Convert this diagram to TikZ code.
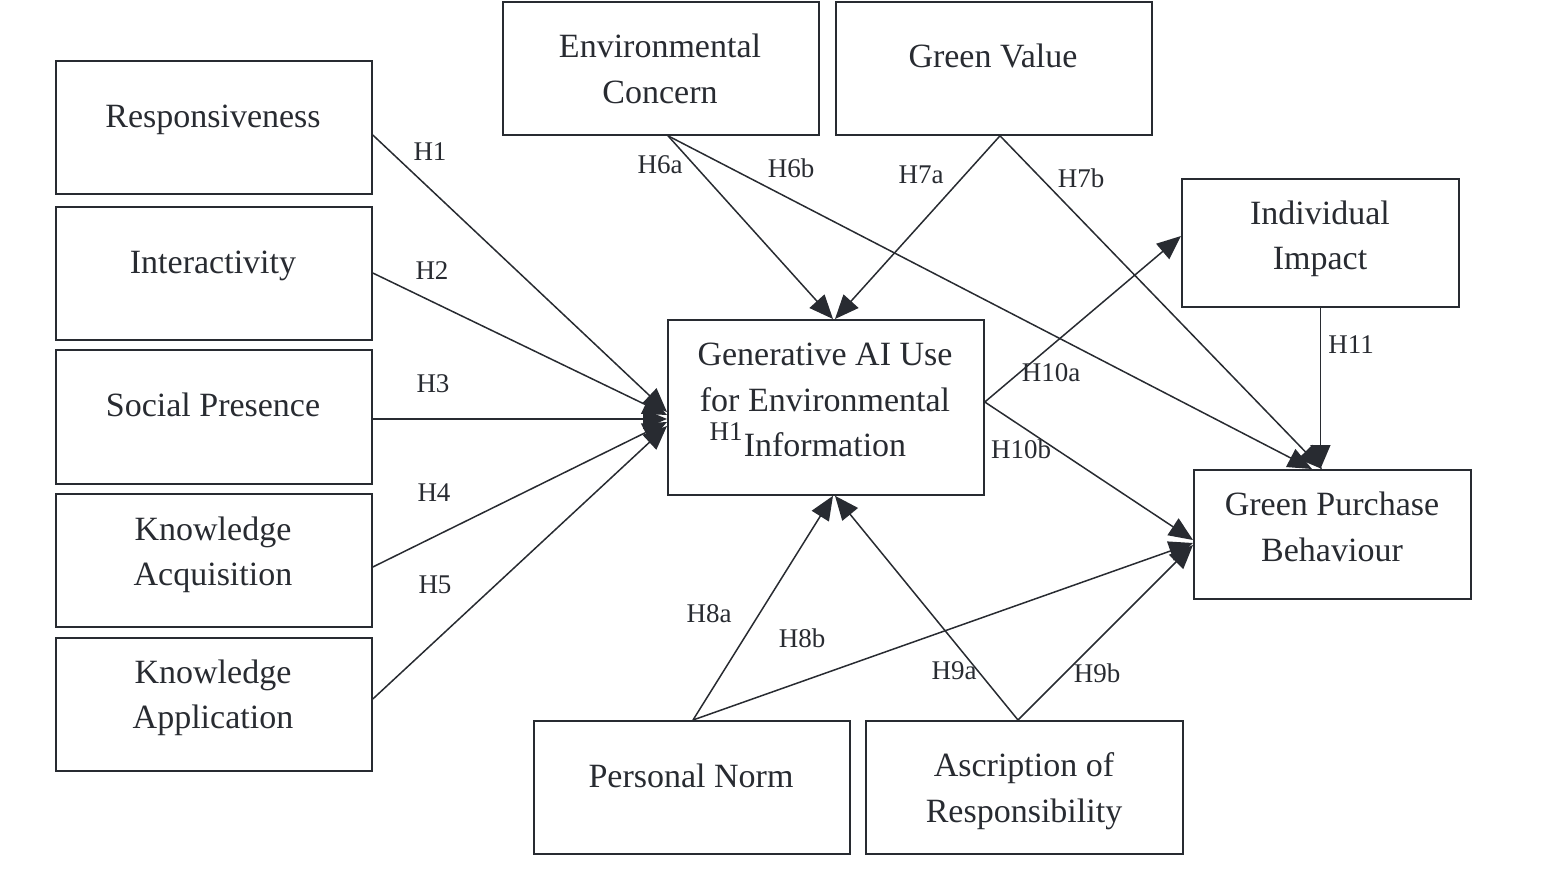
\documentclass[tikz,border=0pt]{standalone}
\usepackage{fontspec}
\setmainfont{Liberation Serif}
\usetikzlibrary{arrows.meta,calc}
\definecolor{ink}{RGB}{40,43,49}
\tikzset{
  box/.style={draw=ink, line width=1.8pt, fill=none, inner sep=0pt},
  lbl/.style={text=ink, font=\fontsize{34}{45.5}\selectfont, align=center, inner sep=0pt},
  hyp/.style={text=ink, font=\fontsize{27}{30}\selectfont, inner sep=0pt},
  conn/.style={draw=ink, line width=1.5pt},
  arr/.style={conn, -{Triangle[length=24pt,width=20pt]}}
}
\begin{document}
\begin{tikzpicture}[x=1pt,y=-1pt]
\useasboundingbox (0,0) rectangle (1556,887);
% boxes
\node[box, minimum width=316pt, minimum height=133pt, anchor=north west] (resp) at (55,60) {};
\node[box, minimum width=316pt, minimum height=133pt, anchor=north west] (inter) at (55,206) {};
\node[box, minimum width=316pt, minimum height=134pt, anchor=north west] (soc) at (55,349) {};
\node[box, minimum width=316pt, minimum height=133pt, anchor=north west] (ka) at (55,493) {};
\node[box, minimum width=316pt, minimum height=133pt, anchor=north west] (kp) at (55,637) {};
\node[box, minimum width=316pt, minimum height=133pt, anchor=north west] (env) at (502,1) {};
\node[box, minimum width=316pt, minimum height=133pt, anchor=north west] (gv) at (835,1) {};
\node[box, minimum width=277pt, minimum height=128pt, anchor=north west] (ii) at (1181,178) {};
\node[box, minimum width=316pt, minimum height=175pt, anchor=north west] (gen) at (667,319) {};
\node[box, minimum width=277pt, minimum height=129pt, anchor=north west] (gpb) at (1193,469) {};
\node[box, minimum width=316pt, minimum height=133pt, anchor=north west] (pn) at (533,720) {};
\node[box, minimum width=317pt, minimum height=133pt, anchor=north west] (an) at (865,720) {};
% box texts
\node[lbl] (tresp) at (213,120) {Responsiveness};
\node[lbl] (tinter) at (213,266) {Interactivity};
\node[lbl] (tsoc) at (213,405) {Social Presence};
\node[lbl] (tka) at (213,555) {Knowledge\\Acquisition};
\node[lbl] (tkp) at (213,698) {Knowledge\\Application};
\node[lbl] (tenv) at (660,69) {Environmental\\Concern};
\node[lbl] (tgv) at (993,56) {Green Value};
\node[lbl] (tii) at (1320,239) {Individual\\Impact};
\node[lbl] (tgen) at (825,400) {Generative AI Use\\for Environmental\\Information};
\node[lbl] (tgpb) at (1332,527) {Green Purchase\\Behaviour};
\node[lbl] (tpn) at (691,776) {Personal Norm};
\node[lbl] (tan) at (1024,791) {Ascription of\\Responsibility};
% connectors
\draw[arr] ($(resp.north east)+(0,75)$) -- ($(gen.north west)+(0,93)$);
\draw[arr] ($(inter.north east)+(0,67)$) -- ($(gen.north west)+(0,96)$);
\draw[arr] ($(soc.north east)+(0,70)$) -- ($(gen.north west)+(0,100)$);
\draw[arr] ($(ka.north east)+(0,74)$) -- ($(gen.north west)+(0,103)$);
\draw[arr] ($(kp.north east)+(0,62)$) -- ($(gen.north west)+(0,107)$);
\coordinate (envs) at ($(env.south west)+(166,0)$);
\coordinate (gvs) at ($(gv.south west)+(165,0)$);
\draw[arr] (envs) -- ($(gen.north west)+(166,0)$);
\draw[arr] (envs) -- ($(gpb.north west)+(119,0)$);
\draw[arr] (gvs) -- ($(gen.north west)+(168,0)$);
\draw[arr] (gvs) -- ($(gpb.north west)+(129,0)$);
\draw[arr] (ii.south) -- (ii.south |- gpb.north);
\coordinate (gene) at ($(gen.north east)+(0,83)$);
\draw[arr] (gene) -- ($(ii.north west)+(0,58)$);
\draw[arr] (gene) -- ($(gpb.north west)+(0,71)$);
\coordinate (pnn) at ($(pn.north west)+(160,0)$);
\coordinate (ann) at ($(an.north west)+(153,0)$);
\draw[arr] (pnn) -- ($(gen.south west)+(166,0)$);
\draw[arr] (pnn) -- ($(gpb.north west)+(0,74)$);
\draw[arr] (ann) -- ($(gen.south west)+(168,0)$);
\draw[arr] (ann) -- ($(gpb.north west)+(0,76)$);
% hypothesis labels
\node[hyp] (h1) at (430,152) {H1};
\node[hyp] (h2) at (432,271) {H2};
\node[hyp] (h3) at (433,384) {H3};
\node[hyp] (h4) at (434,493) {H4};
\node[hyp] (h5) at (435,585) {H5};
\node[hyp] (h6a) at (660,165) {H6a};
\node[hyp] (h6b) at (791,168) {H6b};
\node[hyp] (h7a) at (921,175) {H7a};
\node[hyp] (h7b) at (1081,178) {H7b};
\node[hyp] (h11) at (1351,345) {H11};
\node[hyp] (h10a) at (1051,373) {H10a};
\node[hyp] (h10b) at (1021,449) {H10b};
\node[hyp] (h8a) at (709,614) {H8a};
\node[hyp] (h8b) at (802,638) {H8b};
\node[hyp] (h9a) at (954,671) {H9a};
\node[hyp] (h9b) at (1097,673) {H9b};
\node[hyp] (h1g) at (726,432) {H1};
\end{tikzpicture}
\end{document}
